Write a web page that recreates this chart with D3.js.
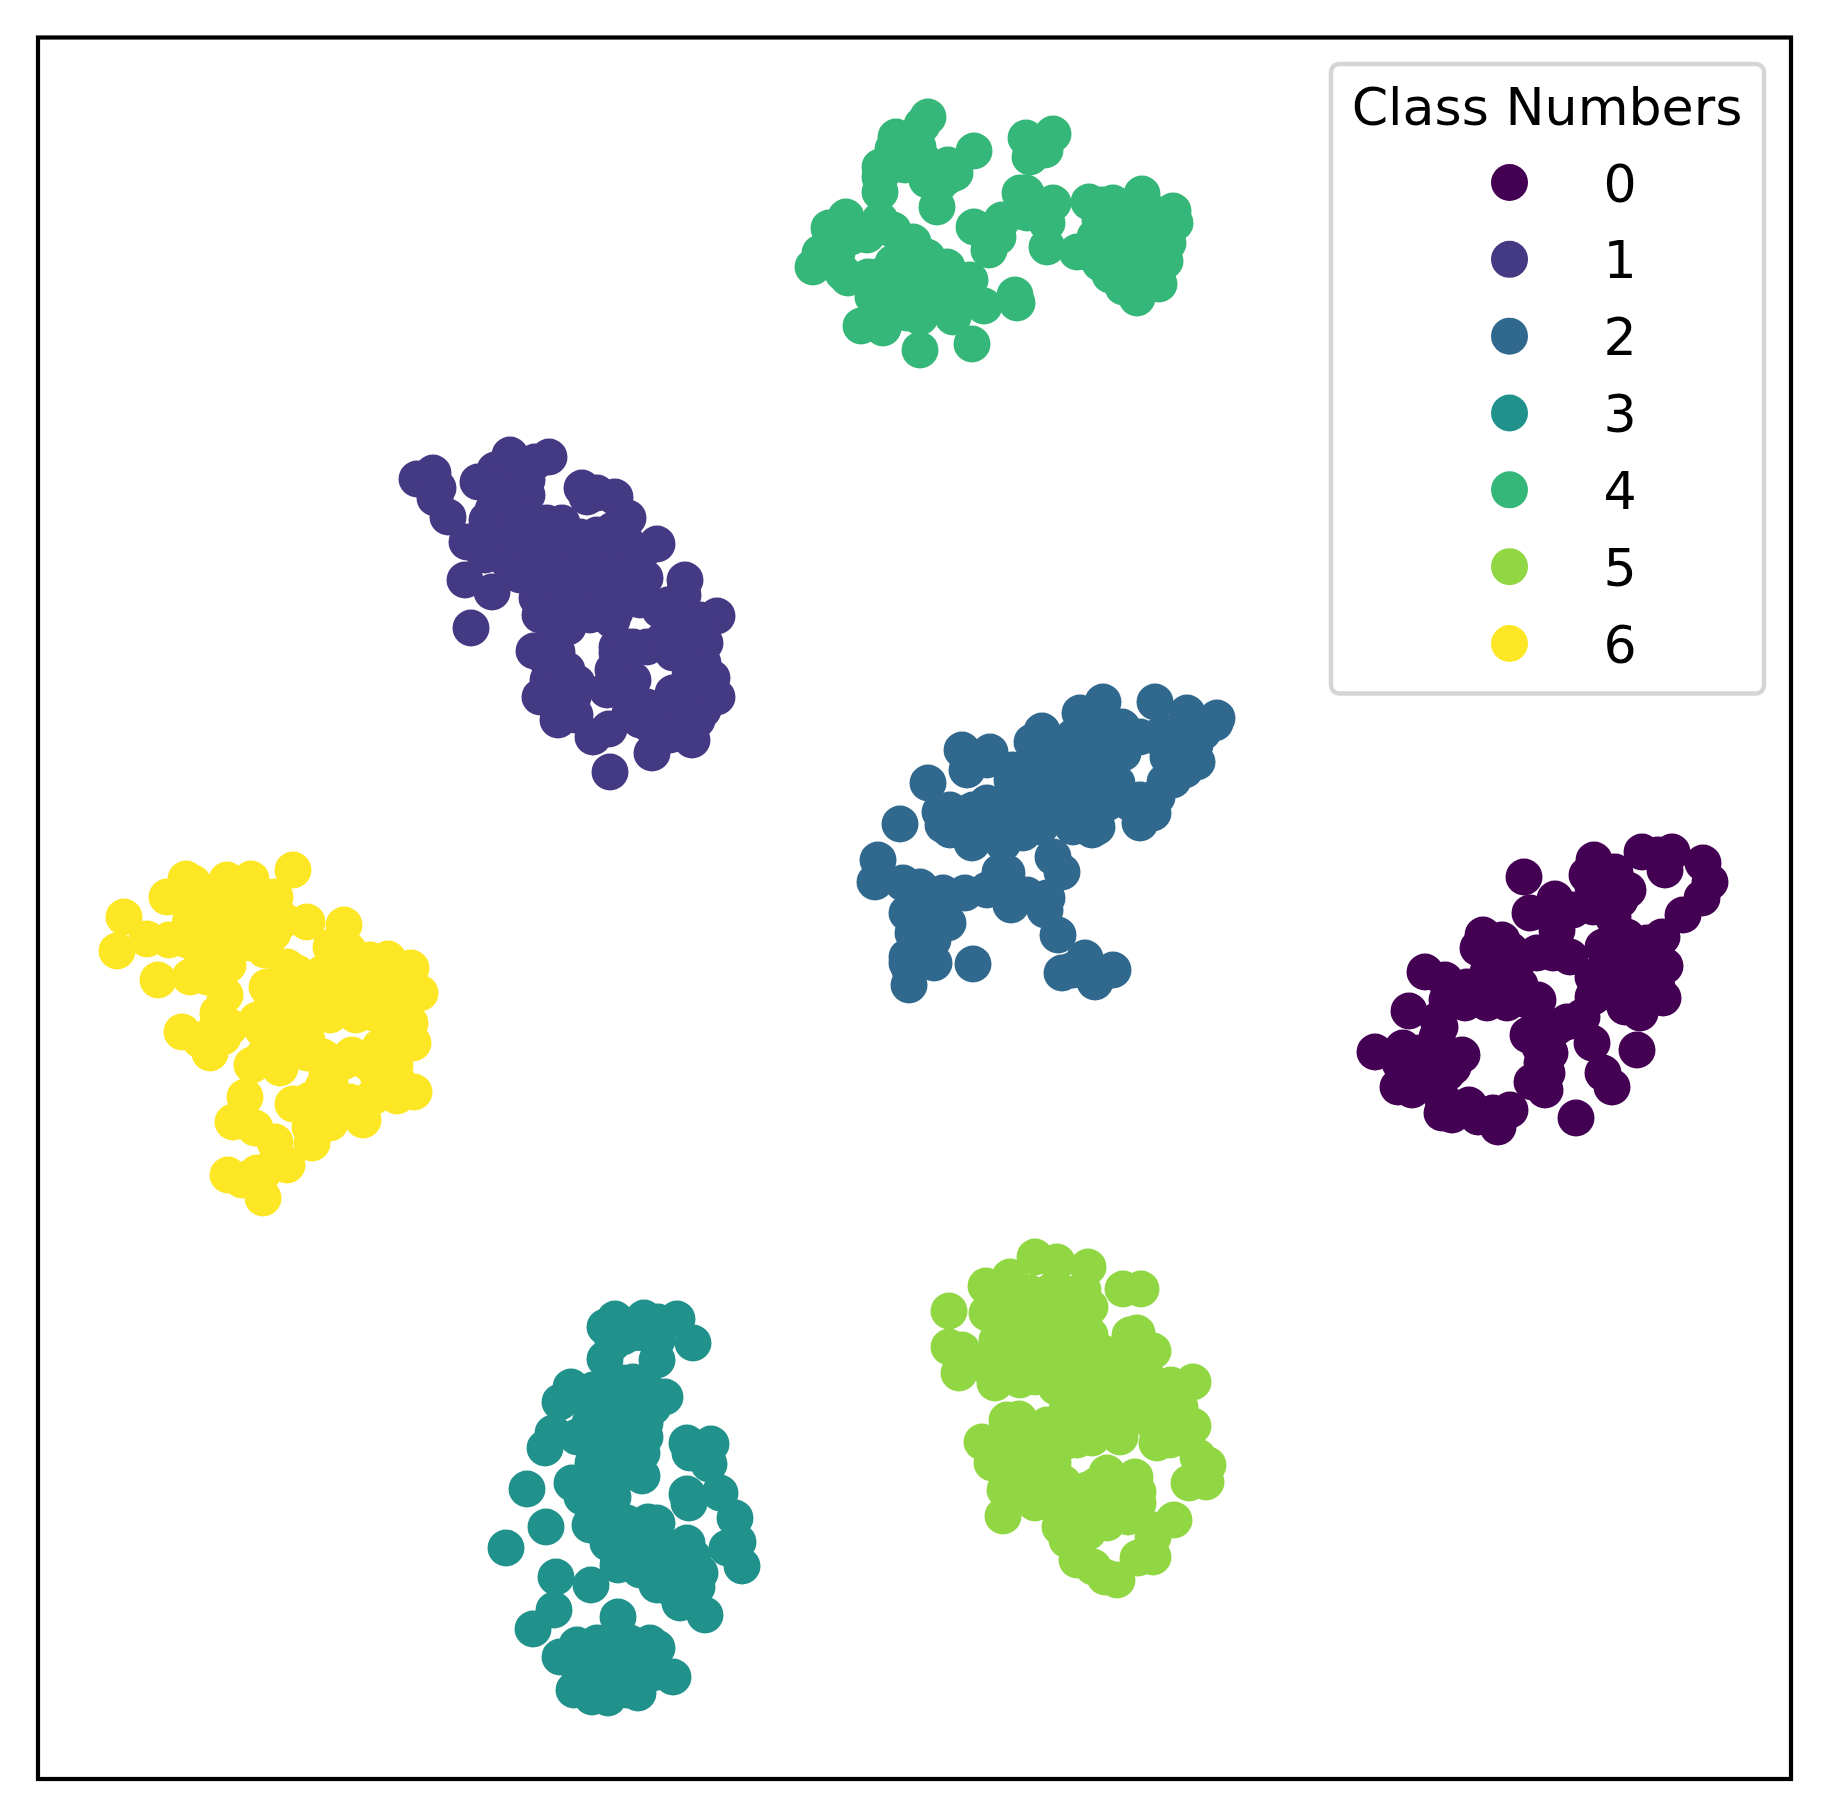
<!DOCTYPE html>
<html>
<head>
<meta charset="utf-8">
<script src="https://cdn.jsdelivr.net/npm/d3@7"></script>
<style>html,body{margin:0;padding:0;background:#fff}svg{display:block}</style>
</head>
<body>
<div id="chart"></div>
<script>
const classLabels = ["0","1","2","3","4","5","6"];
const classColors = ["#440154","#443983","#31688e","#21918c","#35b779","#90d743","#fde725"];
const legendTitle = "Class Numbers";

const class0 = [[1524,877],[1555,899],[1530,913],[1594,860],[1587,875],[1615,872],[1628,890],[1642,852],[1658,855],[1672,852],[1665,870],[1703,863],[1710,882],[1702,898],[1683,915],[1662,937],[1613,917],[1607,893],[1573,910],[1557,930],[1483,935],[1478,948],[1502,940],[1488,972],[1425,972],[1445,980],[1537,953],[1538,1000],[1570,957],[1593,977],[1517,963],[1603,947],[1627,937],[1647,943],[1665,966],[1663,998],[1640,1013],[1625,1007],[1603,990],[1623,970],[1647,970],[1465,1003],[1487,1003],[1507,1003],[1447,1000],[1527,1000],[1567,1022],[1582,1017],[1528,1035],[1550,1053],[1542,1063],[1532,1082],[1545,1090],[1592,1043],[1603,1073],[1612,1087],[1637,1050],[1576,1118],[1409,1011],[1438,1020],[1375,1052],[1403,1048],[1437,1053],[1462,1055],[1447,1073],[1398,1087],[1412,1090],[1420,1068],[1442,1113],[1452,1115],[1469,1105],[1478,1117],[1510,1110],[1498,1127],[1437,1037],
[1553,913],[1593,907],[1620,900],[1593,887],[1557,920],[1500,960],[1487,953],[1507,987],[1487,987],[1467,987],[1613,940],[1607,967],[1630,993],[1647,993],[1613,993],[1593,997],[1640,953],[1657,987],[1540,1020],[1557,1027],[1540,1047],[1547,1073],[1440,1027],[1420,1053],[1440,1070],[1400,1063],[1413,1077],[1427,1083],[1453,1067],[1437,1087],[1443,1100],[1493,1113],[1553,953],[1520,985],[1510,950]];

const class1 = [[417,479],[433,473],[438,488],[435,498],[448,517],[467,542],[478,482],[495,470],[510,455],[535,462],[549,457],[527,495],[493,510],[547,523],[562,523],[582,488],[587,497],[597,493],[615,497],[628,518],[623,525],[657,544],[583,543],[465,580],[492,592],[471,628],[637,573],[627,595],[537,598],[552,622],[612,620],[568,627],[534,651],[557,652],[617,647],[685,580],[683,595],[668,605],[668,615],[717,616],[705,643],[647,647],[682,633],[613,670],[548,680],[540,697],[577,683],[607,690],[633,680],[558,720],[593,737],[609,729],[640,720],[652,753],[692,740],[703,710],[717,697],[712,678],[673,693],[693,697],[663,710],[610,772],[507,537],[530,553],[563,563],[597,563],[580,593],[490,537],[513,503],[497,493],[547,580],[607,593],[680,720],
[487,520],[520,520],[480,547],[507,560],[530,577],[547,547],[580,537],[607,553],[620,560],[567,587],[597,593],[620,603],[583,613],[560,607],[513,487],[493,487],[527,480],[613,530],[567,670],[547,660],[560,700],[573,697],[617,653],[627,647],[663,640],[690,653],[703,663],[673,653],[680,703],[647,707],[670,720],[697,720],[630,713],[660,610],[690,620],[700,637],[633,647],
[515,535],[540,535],[565,535],[597,535],[625,540],[640,555],[485,555],[535,555],[585,555],[520,575],[545,575],[570,575],[595,575],[620,575],[645,578],[545,595],[570,595],[640,600],[540,615],[565,615],[590,615],[615,612],[700,620],[680,650],[695,625],[575,715],[660,730],[670,735],[650,725],[690,675]];

const class2 = [[900,824],[878,860],[875,882],[928,783],[962,750],[990,752],[967,770],[1032,742],[1042,731],[1080,713],[1103,702],[1122,727],[1155,702],[1187,713],[1217,718],[1215,723],[1197,762],[1203,732],[1167,733],[1153,813],[1140,823],[1165,782],[1092,830],[1097,827],[972,843],[943,825],[940,812],[950,830],[1062,872],[1053,857],[1003,843],[1000,872],[1007,873],[1011,905],[1027,895],[1047,898],[1045,910],[1058,935],[903,883],[920,887],[943,893],[965,893],[987,890],[907,913],[948,923],[913,933],[933,940],[907,963],[907,957],[934,963],[909,985],[973,964],[1062,973],[1085,958],[1095,982],[1113,970],[1073,970],[990,820],[1023,803],[1057,787],[1090,753],[1123,753],[1040,770],[1007,810],[973,810],[1073,810],[1107,803],[1140,800],[1168,757],[1157,737],[1107,770],[1067,753],[1023,770],[1040,827],[1173,780],
[1013,770],[1047,747],[1073,737],[1100,727],[1100,763],[1067,780],[1040,797],[1017,813],[990,810],[967,813],[950,810],[1073,827],[1047,820],[1023,833],[1097,793],[1117,783],[1140,737],[1180,737],[1190,753],[1177,770],[1157,797],[1130,803],[1107,743],[1080,770],[920,910],[933,917],[923,897],[917,953],[923,960],[920,937],[910,970],[1000,890],[953,813],[963,830],[987,833],[987,760],[987,803],[1012,780],[1185,770],[1195,745]];

const class3 = [[615,1319],[605,1327],[644,1318],[658,1322],[677,1319],[693,1343],[657,1340],[657,1360],[605,1359],[571,1387],[560,1402],[553,1433],[545,1448],[665,1397],[647,1390],[623,1383],[645,1423],[645,1437],[642,1453],[642,1476],[572,1483],[582,1497],[590,1525],[608,1543],[618,1565],[527,1489],[546,1527],[506,1548],[556,1577],[591,1585],[554,1610],[533,1629],[618,1617],[560,1657],[574,1690],[592,1697],[608,1698],[638,1693],[673,1677],[657,1648],[650,1643],[597,1643],[577,1645],[687,1443],[690,1453],[711,1444],[709,1464],[687,1494],[689,1503],[720,1493],[735,1518],[738,1542],[727,1548],[742,1566],[648,1522],[657,1523],[687,1543],[700,1573],[697,1587],[680,1603],[657,1585],[705,1615],[613,1423],[597,1407],[597,1440],[593,1463],[613,1463],[613,1497],[627,1523],[647,1557],[673,1567],[620,1663],[590,1673],[640,1663],[613,1640],[627,1690],[580,1673],
[623,1337],[643,1333],[613,1343],[580,1397],[593,1390],[613,1390],[633,1403],[653,1407],[613,1407],[590,1423],[577,1437],[630,1423],[630,1447],[627,1470],[597,1470],[590,1490],[613,1483],[597,1507],[613,1517],[607,1530],[627,1547],[620,1557],[640,1543],[660,1543],[677,1550],[693,1557],[657,1567],[680,1573],[673,1590],[690,1590],[640,1570],[580,1657],[597,1657],[613,1657],[630,1643],[597,1683],[613,1680],[633,1677],[653,1673],[633,1333],[633,1382]];

const class4 = [[928,117],[922,125],[896,137],[913,137],[893,149],[918,147],[948,165],[974,151],[955,173],[880,177],[880,192],[937,207],[927,180],[940,183],[846,217],[829,228],[830,230],[820,253],[813,267],[848,278],[843,273],[867,235],[880,220],[893,230],[913,242],[927,257],[877,277],[890,280],[913,280],[897,297],[887,307],[861,326],[883,328],[920,350],[907,313],[920,317],[953,317],[953,277],[970,280],[984,306],[1015,295],[1017,303],[972,344],[940,293],[963,293],[974,227],[1002,220],[998,237],[989,250],[1020,193],[1026,193],[1053,203],[1047,247],[1047,223],[1027,213],[1026,138],[1053,134],[1045,150],[1030,157],[1089,202],[1102,205],[1119,207],[1142,194],[1173,211],[1175,223],[1168,243],[1165,261],[1159,284],[1137,298],[1123,287],[1110,275],[1100,263],[1085,252],[1095,237],[1113,223],[1133,220],[1147,237],[1130,247],[1113,253],[1140,267],[1153,253],[1123,270],[1077,252],[897,267],[930,280],
[868,277],[893,263],[907,247],[920,293],[927,303],[897,313],[877,307],[947,303],[947,267],[903,157],[880,167],[923,160],[947,177],[1113,240],[1133,237],[1157,223],[1133,280],[1107,247],[1127,220],[1147,280],[1163,240],[1100,220],[1113,203],[1137,203],[1153,213],[1040,213],[905,165],[893,165],[920,165],[837,253],[851,237],[873,297],[880,313]];

const class5 = [[1035,1257],[1057,1262],[1088,1267],[1010,1277],[986,1286],[949,1311],[949,1347],[962,1350],[959,1373],[995,1383],[1035,1377],[1056,1387],[1082,1347],[1090,1307],[1083,1290],[1123,1289],[1141,1289],[1130,1335],[1137,1333],[1153,1351],[1171,1385],[1193,1382],[1193,1426],[1157,1443],[1092,1438],[1198,1457],[1208,1465],[1206,1482],[1189,1483],[1174,1520],[1153,1557],[1138,1558],[1117,1580],[1105,1577],[1093,1567],[1077,1560],[1077,1537],[1060,1527],[1088,1532],[1128,1517],[1138,1503],[1135,1477],[1138,1492],[1035,1503],[1003,1516],[1005,1490],[992,1463],[982,1442],[1007,1420],[1019,1419],[1047,1425],[1080,1417],[1120,1437],[1137,1413],[1120,1397],[1087,1380],[1053,1347],[1020,1347],[987,1313],[1020,1313],[1053,1307],[1063,1293],[1037,1297],[1020,1380],[1037,1430],[1020,1447],[1053,1463],[1087,1490],[1120,1490],[1107,1523],[1070,1497],[1153,1423],[1137,1373],[1103,1370],[1097,1485],
[1003,1297],[993,1310],[1073,1297],[1053,1290],[1030,1293],[1013,1330],[1037,1327],[1063,1327],[1080,1323],[997,1340],[997,1363],[977,1363],[1020,1363],[1043,1363],[1063,1363],[1080,1370],[1103,1353],[1120,1353],[1133,1350],[1097,1390],[1120,1380],[1147,1377],[1160,1397],[1180,1407],[1100,1417],[1127,1417],[1173,1427],[1087,1397],[1067,1410],[1013,1437],[1003,1450],[1020,1467],[1007,1477],[1037,1457],[1063,1443],[1053,1430],[1077,1440],[1063,1483],[1047,1490],[1097,1497],[1080,1507],[1117,1483],[1120,1507],[1063,1513],[1087,1517],[1067,1540],[1153,1537],[1155,1530],[1090,1335],[1023,1487],[1053,1477],[1050,1500],[1107,1473],[1165,1415],[1150,1400],[1185,1425],[1170,1440]];

const class6 = [[293,870],[186,879],[193,883],[167,897],[227,880],[251,879],[275,897],[124,917],[117,951],[147,939],[169,940],[158,980],[190,977],[307,922],[344,925],[348,950],[331,947],[388,959],[411,968],[420,993],[410,1023],[413,1043],[388,1040],[395,1065],[352,1055],[372,1058],[414,1092],[397,1096],[363,1120],[330,1123],[312,1143],[323,1087],[293,1104],[287,1165],[275,1142],[255,1128],[233,1122],[245,1097],[228,1175],[242,1180],[257,1173],[263,1198],[182,1032],[210,1053],[280,1068],[252,1065],[307,1053],[218,1013],[225,995],[228,965],[250,943],[273,933],[287,967],[267,987],[268,1013],[330,1015],[356,1015],[297,973],[323,973],[357,973],[383,1000],[390,1023],[307,1007],[283,1040],[307,1040],[207,917],[190,923],[223,913],[257,907],[200,950],[230,940],[323,1057],[327,1073],[350,1102],[373,1097],[230,1027],[263,1030],
[183,900],[203,897],[223,897],[243,900],[263,917],[283,920],[270,900],[200,933],[243,940],[207,963],[187,940],[290,990],[310,993],[337,990],[357,997],[373,983],[390,980],[407,990],[373,1013],[350,963],[370,960],[330,973],[290,1013],[257,1020],[280,1053],[263,1057],[390,1047],[390,1067],[380,1047],[397,1080],[377,1073],[380,1087],[350,1107],[330,1107],[317,1107],[310,1127],[217,1027],[200,1040],[223,1037],[277,1160],[263,1173],[245,920],[265,950],[215,945],[207,977],[367,1062],[343,1062],[380,1073],[330,1083],[310,1100]];

const classPoints = [class0,class1,class2,class3,class4,class5,class6];

const W = 1828, H = 1816;
const frame = {left:38, right:1791, top:37.5, bottom:1779};
const dotRadius = 18.5;

const x = d3.scaleLinear().domain([38,1791]).range([frame.left, frame.right]);
const y = d3.scaleLinear().domain([37.5,1779]).range([frame.top, frame.bottom]);
const color = d3.scaleOrdinal().domain(classLabels).range(classColors);

const svg = d3.select("#chart").append("svg").attr("width",W).attr("height",H)
  .style("font-family","'DejaVu Sans', sans-serif");

svg.append("g").selectAll("g").data(classLabels).join("g")
  .attr("fill", d => color(d))
  .selectAll("circle").data((d,i) => classPoints[i]).join("circle")
  .attr("cx", d => x(d[0])).attr("cy", d => y(d[1])).attr("r", dotRadius);

svg.append("rect").attr("x",frame.left).attr("y",frame.top)
  .attr("width",frame.right-frame.left).attr("height",frame.bottom-frame.top)
  .attr("fill","none").attr("stroke","#000").attr("stroke-width",4.2);

const legend = svg.append("g");
legend.append("rect").attr("x",1331).attr("y",64).attr("width",433).attr("height",629.5)
  .attr("rx",8).attr("fill","#fff").attr("fill-opacity",0.8)
  .attr("stroke","#d5d5d5").attr("stroke-width",4.5);
legend.append("text").attr("x",1547).attr("y",124.5).attr("text-anchor","middle")
  .attr("font-size",52.2).attr("fill","#000").text(legendTitle);
const legendY = d3.scalePoint().domain(classLabels).range([182.5,643.5]);
const rows = legend.selectAll("g.row").data(classLabels).join("g").attr("class","row");
rows.append("circle").attr("cx",1509.5).attr("cy",d=>legendY(d)).attr("r",dotRadius).attr("fill",d=>color(d));
rows.append("text").attr("x",1603.5).attr("y",d=>legendY(d)+19).attr("font-size",52.2).attr("fill","#000").text(d=>d);
</script>
</body>
</html>
